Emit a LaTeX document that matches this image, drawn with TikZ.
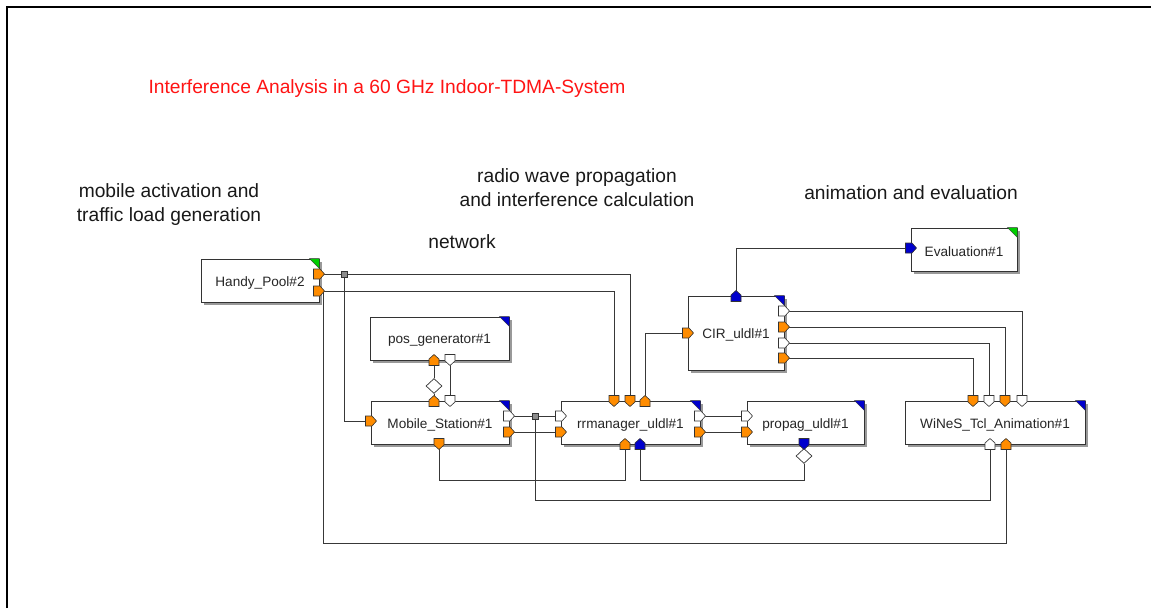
\documentclass[tikz,border=0pt]{standalone}
\usepackage{fontspec}
\setmainfont{Liberation Sans}
\usetikzlibrary{shapes.geometric,shadows}
\definecolor{po}{RGB}{255,140,0}
\definecolor{pb}{RGB}{0,0,205}
\definecolor{pgr}{RGB}{0,205,0}
\definecolor{pw}{RGB}{255,255,255}
\definecolor{ttl}{RGB}{255,20,20}
\pgfdeclarelayer{back}
\pgfdeclarelayer{mid}
\pgfsetlayers{back,mid,main}
\begin{document}
\begin{tikzpicture}[x=1pt,y=-1pt,
  box/.style={draw=black!80, fill=white, line width=0.9pt, inner sep=0pt,
    font=\fontsize{13.6}{16}\selectfont, text=black!85,
    drop shadow={shadow xshift=3pt, shadow yshift=-3pt, fill=black!40, opacity=1}},
  lbl/.style={font=\fontsize{13.6}{16}\selectfont, text=black!85, inner sep=0pt},
  wire/.style={draw=black!78, line width=0.9pt},
  portshape/.style={draw=black!80, line width=0.6pt},
  junc/.style={draw=black!80, fill=black!45, rectangle, minimum size=6pt, inner sep=0pt, line width=0.6pt},
  dia/.style={draw=black!80, fill=white, diamond, minimum width=16pt, minimum height=15pt, inner sep=0pt, line width=0.7pt},
  note/.style={font=\fontsize{19.2}{24}\selectfont, text=black!90, align=center, inner sep=0pt},
  cornerb/.style={fill=pb, draw=black!80, line width=0.4pt},
  cornerg/.style={fill=pgr, draw=black!80, line width=0.4pt}
]
\useasboundingbox (0,0) rectangle (1151,608);
% frame
\draw[line width=2pt, black] (6.5,608) -- (6.5,6.5) -- (1151,6.5);

% texts
\node[note, text=ttl] (title) at (387,89) {Interference Analysis in a 60 GHz Indoor-TDMA-System};
\node[note] (t1) at (169,204.5) {mobile activation and\\traffic load generation};
\node[note] (t2) at (577,188) {radio wave propagation\\and interference calculation};
\node[note] (t3) at (462,241.5) {network};
\node[note] (t4) at (911,192.5) {animation and evaluation};

% boxes
\begin{pgfonlayer}{back}
\node[box, minimum width=118pt, minimum height=43pt] (hp) at (260,280.5) {};
\node[box, minimum width=139pt, minimum height=43pt] (pg) at (439.5,338.5) {};
\node[box, minimum width=138pt, minimum height=43pt] (ms) at (440,422.5) {};
\node[box, minimum width=139pt, minimum height=43pt] (rr) at (630.5,422.5) {};
\node[box, minimum width=117pt, minimum height=43pt] (pr) at (805.5,422.5) {};
\node[box, minimum width=96pt, minimum height=74pt] (cir) at (736,333) {};
\node[box, minimum width=106pt, minimum height=43pt] (ev) at (964,249.5) {};
\node[box, minimum width=180pt, minimum height=43pt] (wt) at (995,422.5) {};
\draw[cornerg] (hp.north east) -- ++(-10,0) -- ++(10,10) -- cycle;
\draw[cornerg] (ev.north east) -- ++(-10,0) -- ++(10,10) -- cycle;
\foreach \b in {pg,ms,rr,pr,cir,wt}
  \draw[cornerb] (\b.north east) -- ++(-10,0) -- ++(10,10) -- cycle;
\end{pgfonlayer}
% box labels
\node[lbl] (hpt) at ([yshift=-2pt]hp.center) {Handy\_Pool\#2};
\node[lbl] (pgt) at ([yshift=-2pt]pg.center) {pos\_generator\#1};
\node[lbl] (mst0) at ([yshift=-2pt]ms.center) {Mobile\_Station\#1};
\node[lbl] (rrt0) at ([yshift=-2pt]rr.center) {rrmanager\_uldl\#1};
\node[lbl] (prt) at ([yshift=-2pt]pr.center) {propag\_uldl\#1};
\node[lbl] (cirt0) at ([yshift=-2pt]cir.center) {CIR\_uldl\#1};
\node[lbl] (evt) at ([yshift=-2pt]ev.center) {Evaluation\#1};
\node[lbl] (wtt0) at ([yshift=-2pt]wt.center) {WiNeS\_Tcl\_Animation\#1};

% port coordinates
\coordinate (hp1) at (319,274);
\coordinate (hp2) at (319,291);
\coordinate (pgo) at (434,360);
\coordinate (pgw) at (450,360);
\coordinate (mst) at (434,401);
\coordinate (msw) at (450,401);
\coordinate (msl) at (371,421);
\coordinate (msr1) at (509,416);
\coordinate (msr2) at (509,432);
\coordinate (msb) at (439,444);
\coordinate (rrt1) at (614,401);
\coordinate (rrt2) at (630,401);
\coordinate (rrt3) at (645,401);
\coordinate (rrl1) at (561,416);
\coordinate (rrl2) at (561,432);
\coordinate (rrr1) at (700,416);
\coordinate (rrr2) at (700,432);
\coordinate (rrb1) at (625,444);
\coordinate (rrb2) at (640,444);
\coordinate (prl1) at (747,416);
\coordinate (prl2) at (747,432);
\coordinate (prb) at (804,444);
\coordinate (cirt) at (736,296);
\coordinate (cirl) at (688,333);
\coordinate (cirr1) at (784,311);
\coordinate (cirr2) at (784,327);
\coordinate (cirr3) at (784,343);
\coordinate (cirr4) at (784,358);
\coordinate (evl) at (911,248);
\coordinate (wtt1) at (973,401);
\coordinate (wtt2) at (989,401);
\coordinate (wtt3) at (1005,401);
\coordinate (wtt4) at (1022,401);
\coordinate (wtb1) at (990,444);
\coordinate (wtb2) at (1006,444);
% bend points
\coordinate (c1) at (323,543);
\coordinate (c2) at (535,500);
\coordinate (c3) at (439,480);
\coordinate (c4) at (640,480);

% junctions and diamonds
\node[junc] (j1) at (344,274) {};
\node[junc] (j2) at (535,416) {};
\node[dia] (d1) at (434,386) {};
\node[dia] (d2) at (804,456) {};

% wires
\begin{pgfonlayer}{mid}
\draw[wire] (hp1) -| (rrt2);
\draw[wire] (j1) |- (msl);
\draw[wire] (hp2) -| (rrt1);
\draw[wire] (hp2) -| (c1) -| (wtb2);
\draw[wire] (msr1) -- (rrl1);
\draw[wire] (j2) -- (c2) -| (wtb1);
\draw[wire] (msr2) -- (rrl2);
\draw[wire] (pgw) -- (msw);
\draw[wire] (pgo) -- (d1) -- (mst);
\draw[wire] (msb) -- (c3) -| (rrb1);
\draw[wire] (rrb2) -- (c4) -| (d2);
\draw[wire] (d2) -- (prb);
\draw[wire] (rrt3) |- (cirl);
\draw[wire] (rrr1) -- (prl1);
\draw[wire] (rrr2) -- (prl2);
\draw[wire] (cirt) |- (evl);
\draw[wire] (cirr1) -| (wtt4);
\draw[wire] (cirr2) -| (wtt3);
\draw[wire] (cirr3) -| (wtt2);
\draw[wire] (cirr4) -| (wtt1);
\end{pgfonlayer}

% ports
\foreach \n/\a/\c in {hp1/0/po, hp2/0/po, pgo/90/po, pgw/270/pw, mst/90/po, msw/270/pw,
  msl/0/po, msr1/0/pw, msr2/0/po, msb/270/po, rrt1/270/po, rrt2/270/po, rrt3/90/po,
  rrl1/0/pw, rrl2/0/po, rrr1/0/pw, rrr2/0/po, rrb1/90/po, rrb2/90/pb, prl1/0/pw, prl2/0/po,
  prb/270/pb, cirt/90/pb, cirl/0/po, cirr1/0/pw, cirr2/0/po, cirr3/0/pw, cirr4/0/po,
  evl/0/pb, wtt1/270/po, wtt2/270/pw, wtt3/270/po, wtt4/270/pw, wtb1/90/pw, wtb2/90/po}
  \draw[portshape, fill=\c, shift={(\n)}, rotate=\a] (-5.5,-5) -- (1,-5) -- (5.5,0) -- (1,5) -- (-5.5,5) -- cycle;
\end{tikzpicture}
\end{document}
